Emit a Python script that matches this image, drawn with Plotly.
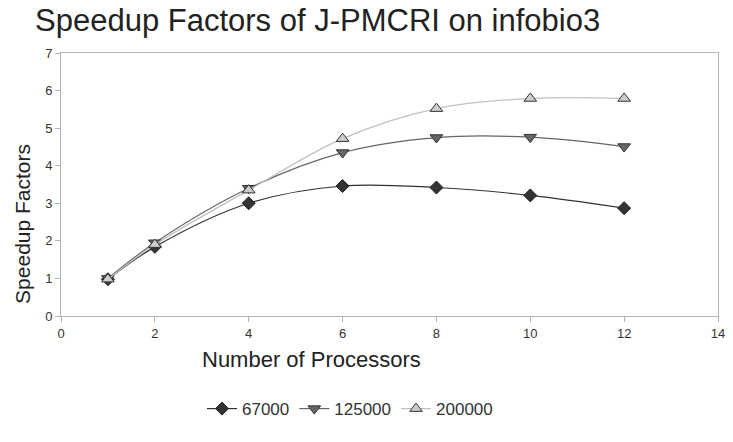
import plotly.graph_objects as go

processors = [1, 2, 4, 6, 8, 10, 12]
s67000 = [0.98, 1.84, 3.0, 3.46, 3.42, 3.21, 2.87]
s125000 = [1.0, 1.95, 3.4, 4.35, 4.75, 4.76, 4.51]
s200000 = [0.98, 1.9, 3.35, 4.72, 5.52, 5.79, 5.79]
names = ["67000", "125000", "200000"]

fig = go.Figure()
fig.add_trace(go.Scatter(x=processors, y=s67000, name=names[0], mode="lines+markers",
                         line=dict(color="#333333", width=1.2, shape="spline"),
                         marker=dict(symbol="diamond", size=10, color="#333333",
                                     line=dict(color="#222222", width=1))))
fig.add_trace(go.Scatter(x=processors, y=s125000, name=names[1], mode="lines+markers",
                         line=dict(color="#666666", width=1.2, shape="spline"),
                         marker=dict(symbol="triangle-down", size=11, color="#666666",
                                     line=dict(color="#333333", width=1))))
fig.add_trace(go.Scatter(x=processors, y=s200000, name=names[2], mode="lines+markers",
                         line=dict(color="#c0c0c0", width=1.2, shape="spline"),
                         marker=dict(symbol="triangle-up", size=11, color="#cccccc",
                                     line=dict(color="#333333", width=1))))

# the page body adds an 8px margin on every side, so the figure is drawn
# 8px in from the window edge and sized to fit without scrollbars
OFF = 8
W, H = 733 - 2 * OFF, 442 - 2 * OFF
L, T = 61 - OFF, 53 - OFF
R = W - (718 - OFF)
B = H - (330 - OFF)
PW = W - L - R
PH = H - T - B

def px(xp):
    return (xp - OFF - L) / PW

def py(yp):
    return (H - B - (yp - OFF)) / PH

fig.update_layout(
    width=W, height=H,
    margin=dict(l=L, r=R, t=T, b=B),
    paper_bgcolor="white", plot_bgcolor="white",
    font=dict(family="Liberation Sans, Arial, sans-serif", color="#333333"),
    title=dict(text="Speedup Factors of J-PMCRI on infobio3", x=(35 - OFF) / W, xanchor="left",
               y=1 - 1 / H, yanchor="top", font=dict(size=31, color="#222222")),
    xaxis=dict(range=[0, 14], dtick=2, showgrid=False, zeroline=False, automargin=False,
               showline=True, linecolor="#b3b3b3", mirror=True, linewidth=1,
               ticks="outside", ticklen=5, tickcolor="#b3b3b3", ticklabeloverflow="allow",
               tickfont=dict(size=13, color="#333333")),
    yaxis=dict(range=[0, 7], dtick=1, showgrid=False, zeroline=False, automargin=False,
               showline=True, linecolor="#b3b3b3", mirror=True, linewidth=1,
               ticks="outside", ticklen=5, tickcolor="#b3b3b3", ticklabeloverflow="allow",
               tickfont=dict(size=13, color="#333333")),
    legend=dict(orientation="h", x=px(350), xanchor="center",
                y=py(428), yanchor="middle",
                font=dict(size=17, color="#333333")),
    showlegend=True,
)

# axis titles placed as in the reference (offset from plot centre)
fig.add_annotation(text="Number of Processors", xref="paper", yref="paper",
                   x=px(311), y=py(376), xanchor="center", yanchor="middle",
                   showarrow=False, font=dict(size=22, color="#222222"))
fig.add_annotation(text="Speedup Factors", xref="paper", yref="paper", textangle=-90,
                   x=px(23), y=py(233), xanchor="center", yanchor="middle",
                   showarrow=False, font=dict(size=21, color="#222222"))

fig.write_html("out.html")
